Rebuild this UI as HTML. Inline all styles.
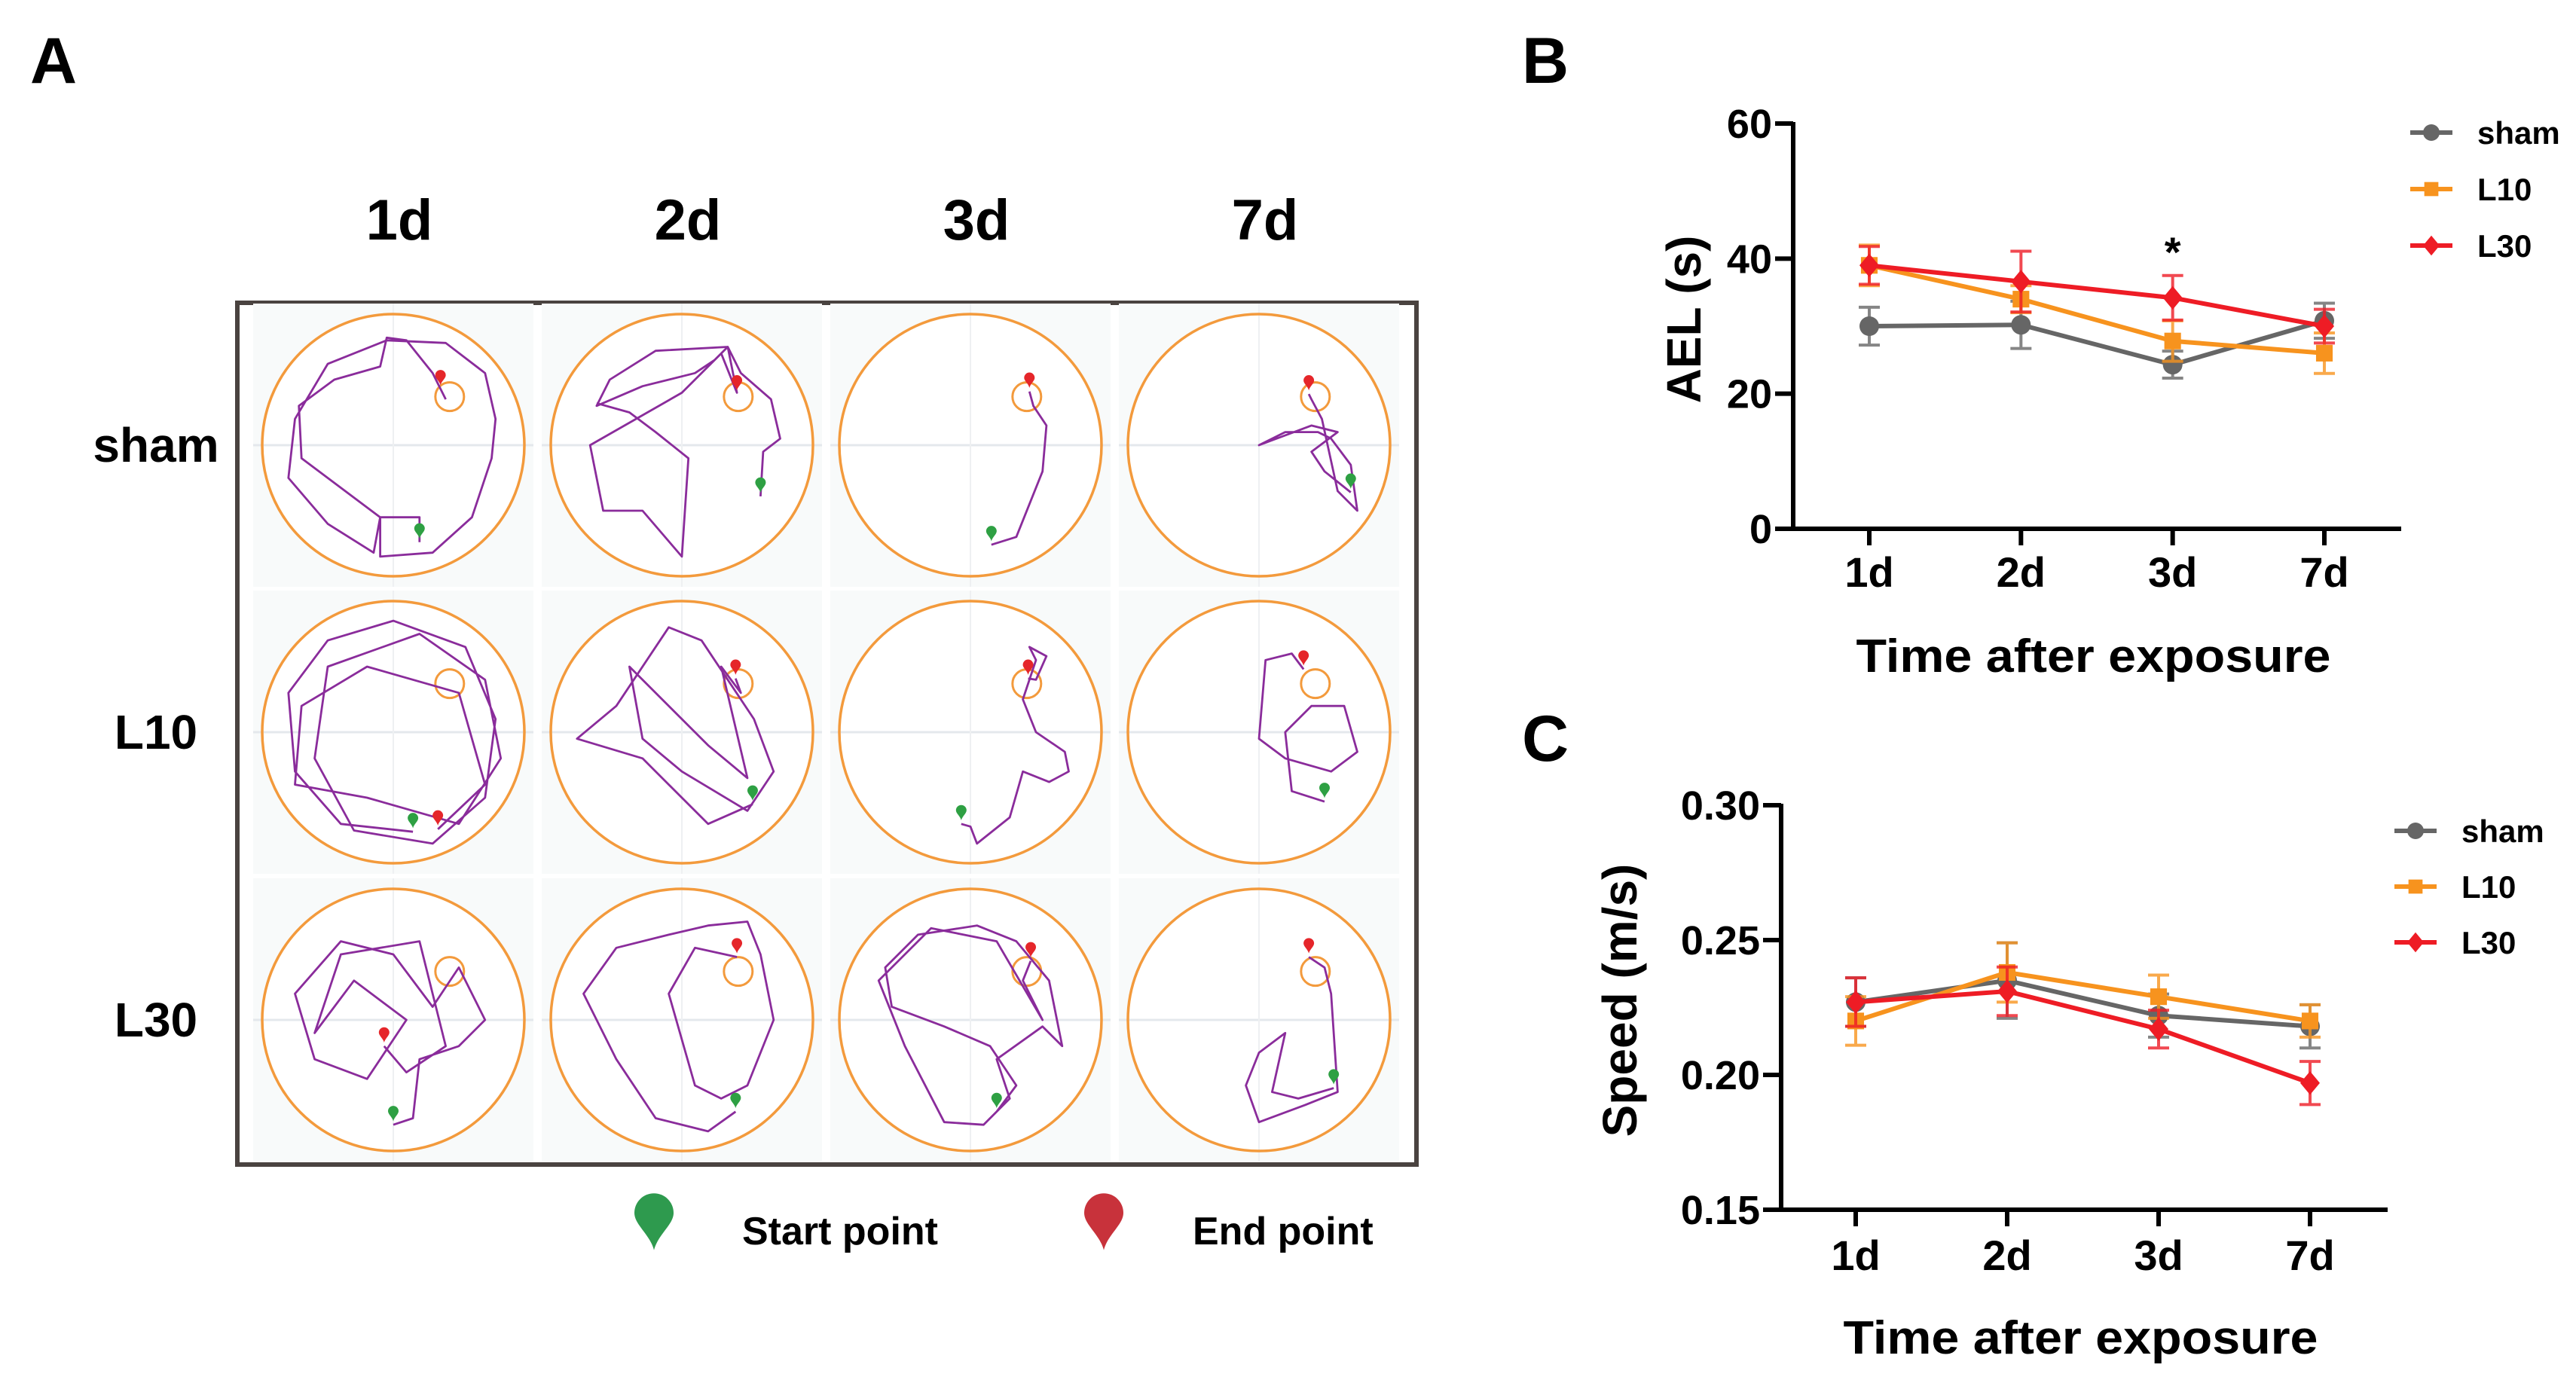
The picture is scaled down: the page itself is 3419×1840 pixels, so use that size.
<!DOCTYPE html>
<html><head><meta charset="utf-8"><style>
html,body{margin:0;padding:0;background:#fff;}
svg{display:block;font-family:"Liberation Sans",Arial,sans-serif;font-weight:bold;}
</style></head><body>
<svg id="fig" width="3419" height="1840" viewBox="0 0 3419 1840" xmlns="http://www.w3.org/2000/svg">
<rect x="0" y="0" width="3419" height="1840" fill="#fff"/>
<text x="40" y="110" font-size="86">A</text>
<text x="2020" y="110" font-size="86">B</text>
<text x="2020" y="1010" font-size="86">C</text>
<g id="panelA"></g>
<g id="chartB"></g>
<g id="chartC"></g>
</svg>
<script>
// ---------- chart data ----------
const categories = ["1d","2d","3d","7d"];
const seriesNames = ["sham","L10","L30"];
const aelSham = [30.0, 30.2, 24.3, 30.8];
const aelL10 = [39.0, 34.0, 27.8, 26.0];
const aelL30 = [39.0, 36.6, 34.2, 30.0];
const aelShamErr = [2.8, 3.5, 2.0, 2.6];
const aelL10Err = [3.0, 2.0, 3.0, 3.0];
const aelL30Err = [2.8, 4.5, 3.3, 2.5];
const aelTicks = [0, 20, 40, 60];
const speedSham = [0.227, 0.235, 0.222, 0.218];
const speedL10 = [0.220, 0.238, 0.229, 0.220];
const speedL30 = [0.227, 0.231, 0.217, 0.197];
const speedShamErr = [0.009, 0.014, 0.008, 0.008];
const speedL10Err = [0.009, 0.011, 0.008, 0.006];
const speedL30Err = [0.009, 0.009, 0.007, 0.008];
const speedTicks = [0.15, 0.20, 0.25, 0.30];
const speedTickLabels = ["0.15","0.20","0.25","0.30"];

const NS = "http://www.w3.org/2000/svg";
function mk(parent, tag, attrs, text){
  const e = document.createElementNS(NS, tag);
  for (const k in attrs) e.setAttribute(k, attrs[k]);
  if (text !== undefined) e.textContent = text;
  parent.appendChild(e);
  return e;
}
const colors = {sham:"#666666", L10:"#f7931e", L30:"#ee1c25"};

function marker(g, shape, x, y, s, col){
  let m;
  if (shape === "sham") m = mk(g, "circle", {cx:x, cy:y, r:s, fill:col});
  else if (shape === "L10") m = mk(g, "rect", {x:x-s*0.85, y:y-s*0.85, width:s*1.7, height:s*1.7, fill:col});
  else m = mk(g, "polygon", {points:`${x},${y-s*1.2} ${x+s},${y} ${x},${y+s*1.2} ${x-s},${y}`, fill:col});
  return m;
}

function drawChart(gid, cfg){
  const g = document.getElementById(gid);
  const {x0, x1, y0, y1, vmin, vmax, ticks, tickLabels, xs, series, errs, ytitle, ycx, ycy, titleY, tickLY, legX, legTextX, legY} = cfg;
  const ys = v => y1 - (v - vmin) / (vmax - vmin) * (y1 - y0);
  const xp = i => xs[0] + i * (xs[3] - xs[0]) / 3;
  let a = mk(g, "line", {x1:x0, y1:y0-2, x2:x0, y2:y1+3, stroke:"#000", "stroke-width":6});
  
  
  a = mk(g, "line", {x1:x0-24, y1:y1, x2:x1, y2:y1, stroke:"#000", "stroke-width":6});
  
  
  ticks.forEach((t, i) => {
    const y = ys(t);
    const tl = mk(g, "line", {x1:x0-24, y1:y, x2:x0, y2:y, stroke:"#000", "stroke-width":6});
    
    
    const tx = mk(g, "text", {x:x0-28, y:y+19, "font-size":54, "text-anchor":"end"}, tickLabels[i]);
    
    
  });
  categories.forEach((c, i) => {
    const x = xp(i);
    const tl = mk(g, "line", {x1:x, y1:y1, x2:x, y2:y1+22, stroke:"#000", "stroke-width":6});
    
    
    const tx = mk(g, "text", {x:x, y:tickLY, "font-size":56, "text-anchor":"middle"}, c);
    
    
  });
  const tt = mk(g, "text", {x:(x0+x1)/2-5, y:titleY, "font-size":62, "text-anchor":"middle", textLength:630, lengthAdjust:"spacingAndGlyphs"}, "Time after exposure");
  
  
  const yt = mk(g, "text", {x:0, y:0, "font-size":64, "text-anchor":"middle", transform:`translate(${ycx+22},${ycy}) rotate(-90)`}, ytitle);
  
  
  seriesNames.forEach((name, si) => {
    const col = colors[name];
    const vals = series[si], er = errs[si];
    const sg = mk(g, "g", {});
    
    
    vals.forEach((v, i) => {
      const x = xp(i);
      const eb = mk(sg, "path", {d:`M${x},${ys(v-er[i])}V${ys(v+er[i])}M${x-14},${ys(v-er[i])}h28M${x-14},${ys(v+er[i])}h28`, stroke:col, "stroke-width":4, fill:"none", opacity:0.8});
      
      
    });
    const pl = mk(sg, "polyline", {points: vals.map((v,i)=>`${xp(i)},${ys(v)}`).join(" "), stroke:col, "stroke-width":6, fill:"none"});
    
    
    vals.forEach((v, i) => {
      const m = marker(sg, name, xp(i), ys(v), 13, col);
      
      
    });
    const lg = mk(g, "g", {});
    
    
    const ly = legY[si];
    mk(lg, "line", {x1:legX, y1:ly, x2:legX+56, y2:ly, stroke:col, "stroke-width":6});
    marker(lg, name, legX+28, ly, 11, col);
    mk(lg, "text", {x:legTextX, y:ly+15, "font-size":42}, name);
  });
  return {ys, xp};
}

const B = drawChart("chartB", {
  x0:2380, x1:3187, y0:164, y1:702, vmin:0, vmax:60, ticks:aelTicks, tickLabels:aelTicks.map(String),
  xs:[2481,2682,2884,3085], series:[aelSham,aelL10,aelL30], errs:[aelShamErr,aelL10Err,aelL30Err],
  ytitle:"AEL (s)", ycx:2235, ycy:424, titleY:892, tickLY:779, legX:3199, legTextX:3288, legY:[176,251,326]
});
const ast = mk(document.getElementById("chartB"), "text", {x:B.xp(2), y:B.ys(aelL30[2]+aelL30Err[2])-12, "font-size":56, "text-anchor":"middle"}, "*");



drawChart("chartC", {
  x0:2364, x1:3169, y0:1069, y1:1606, vmin:0.15, vmax:0.30, ticks:speedTicks, tickLabels:speedTickLabels,
  xs:[2463,2665,2865,3066], series:[speedSham,speedL10,speedL30], errs:[speedShamErr,speedL10Err,speedL30Err],
  ytitle:"Speed (m/s)", ycx:2150, ycy:1328, titleY:1797, tickLY:1686, legX:3178, legTextX:3267, legY:[1103,1177,1251]
});

// ---------- panel A: trajectories ----------
const A = document.getElementById("panelA");
const cols = [522, 905, 1288, 1671];
const rows = [591, 972, 1354];
const R = 174;
const frame = mk(A, "rect", {x:315, y:402, width:1565, height:1144, fill:"#fff", stroke:"#4a4340", "stroke-width":6});


const colLabels = ["1d","2d","3d","7d"];
colLabels.forEach((c,i)=>{
  const t = mk(A, "text", {x:cols[i]+8, y:318, "font-size":76, "text-anchor":"middle"}, c);
  
  
});
const rowLabels = ["sham","L10","L30"];
rowLabels.forEach((r,i)=>{
  const t = mk(A, "text", {x:207, y:rows[i]+22, "font-size":64, "text-anchor":"middle"}, r);
  
  
});
const paths = [
 [[[0.2,0.74],[0.2,0.55],[-0.1,0.55],[-0.1,0.85],[0.3,0.82],[0.6,0.55],[0.75,0.1],[0.78,-0.2],[0.7,-0.55],[0.4,-0.78],[-0.05,-0.8],[-0.5,-0.62],[-0.75,-0.2],[-0.8,0.25],[-0.5,0.6],[-0.15,0.82],[-0.1,0.55],[-0.7,0.1],[-0.72,-0.3],[-0.45,-0.5],[-0.1,-0.6],[-0.05,-0.82],[0.1,-0.8],[0.3,-0.55],[0.4,-0.35]],[0.36,-0.43],[0.2,0.74]],
 [[[0.6,0.39],[0.62,0.05],[0.75,-0.05],[0.68,-0.35],[0.45,-0.55],[0.35,-0.75],[-0.2,-0.72],[-0.55,-0.5],[-0.65,-0.3],[-0.3,-0.45],[0.1,-0.55],[0.25,-0.65],[0.35,-0.75],[0.42,-0.4],[0.3,-0.7],[0.0,-0.4],[-0.7,0.0],[-0.6,0.5],[-0.3,0.5],[0.0,0.85],[0.05,0.1],[-0.2,-0.1],[-0.4,-0.25],[-0.65,-0.32]],[0.42,-0.39],[0.6,0.39]],
 [[[0.16,0.76],[0.35,0.7],[0.55,0.2],[0.58,-0.15],[0.48,-0.3],[0.45,-0.41]],[0.45,-0.41],[0.16,0.76]],
 [[[0.7,0.36],[0.5,0.2],[0.4,0.05],[0.6,-0.1],[0.4,-0.15],[0.0,0.0],[0.2,-0.1],[0.45,-0.1],[0.55,-0.05],[0.7,0.15],[0.75,0.5],[0.6,0.35],[0.48,-0.2],[0.4,-0.35],[0.38,-0.39]],[0.38,-0.39],[0.7,0.36]],
 [[[0.15,0.76],[-0.4,0.7],[-0.75,0.3],[-0.8,-0.3],[-0.5,-0.7],[0.0,-0.85],[0.55,-0.65],[0.78,-0.1],[0.7,0.5],[0.3,0.85],[-0.3,0.75],[-0.6,0.2],[-0.5,-0.5],[0.2,-0.75],[0.7,-0.4],[0.82,0.2],[0.5,0.7],[-0.2,0.5],[-0.75,0.4],[-0.7,-0.2],[-0.2,-0.5],[0.5,-0.3],[0.7,0.4],[0.34,0.74]],[0.34,0.74],[0.15,0.76]],
 [[[0.54,0.55],[0.2,0.7],[-0.3,0.2],[-0.8,0.05],[-0.5,-0.2],[-0.1,-0.8],[0.15,-0.7],[0.55,-0.1],[0.7,0.3],[0.5,0.6],[0.0,0.3],[-0.3,0.05],[-0.4,-0.5],[0.2,0.1],[0.5,0.35],[0.3,-0.5],[0.45,-0.3],[0.41,-0.41]],[0.41,-0.41],[0.54,0.55]],
 [[[-0.07,0.7],[0.0,0.72],[0.05,0.85],[0.3,0.65],[0.4,0.3],[0.6,0.38],[0.75,0.3],[0.72,0.15],[0.5,0.0],[0.4,-0.25],[0.5,-0.55],[0.45,-0.65],[0.58,-0.58],[0.5,-0.4],[0.44,-0.41]],[0.44,-0.41],[-0.07,0.7]],
 [[[0.5,0.53],[0.25,0.45],[0.2,0.0],[0.4,-0.2],[0.65,-0.2],[0.75,0.15],[0.55,0.3],[0.2,0.2],[0.0,0.05],[0.05,-0.55],[0.25,-0.6],[0.34,-0.48]],[0.34,-0.48],[0.5,0.53]],
 [[[0.0,0.8],[0.15,0.75],[0.2,0.3],[0.5,0.2],[0.7,0.0],[0.5,-0.4],[0.3,-0.1],[0.0,-0.5],[-0.4,-0.6],[-0.75,-0.2],[-0.6,0.3],[-0.2,0.45],[0.1,0.0],[-0.3,-0.3],[-0.6,0.1],[-0.4,-0.5],[0.2,-0.6],[0.4,0.2],[0.1,0.4],[-0.07,0.2]],[-0.07,0.2],[0.0,0.8]],
 [[[0.41,0.7],[0.2,0.85],[-0.2,0.75],[-0.5,0.3],[-0.75,-0.2],[-0.5,-0.55],[-0.1,-0.65],[0.2,-0.72],[0.5,-0.75],[0.6,-0.5],[0.7,0.0],[0.5,0.5],[0.3,0.6],[0.1,0.5],[-0.1,-0.2],[0.1,-0.55],[0.42,-0.48]],[0.42,-0.48],[0.41,0.7]],
 [[[0.2,0.7],[0.35,0.5],[0.15,0.2],[-0.2,0.05],[-0.6,-0.1],[-0.65,-0.4],[-0.4,-0.65],[0.05,-0.72],[0.35,-0.6],[0.6,-0.3],[0.7,0.2],[0.55,0.05],[0.2,0.3],[0.3,0.6],[0.1,0.8],[-0.2,0.78],[-0.5,0.2],[-0.7,-0.3],[-0.3,-0.7],[0.2,-0.6],[0.55,0.0],[0.4,-0.3],[0.46,-0.45]],[0.46,-0.45],[0.2,0.7]],
 [[[0.57,0.52],[0.3,0.6],[0.1,0.55],[0.2,0.1],[0.0,0.25],[-0.1,0.5],[0.0,0.78],[0.35,0.65],[0.6,0.55],[0.55,-0.2],[0.5,-0.4],[0.38,-0.48]],[0.38,-0.48],[0.57,0.52]]
];
function pin(g, x, y, col, s){
  return mk(g, "path", {d:`M${x},${y+s*1.6} C${x-s*0.2},${y+s*0.8} ${x-s},${y+s*0.3} ${x-s},${y-s*0.3} A${s},${s} 0 1 1 ${x+s},${y-s*0.3} C${x+s},${y+s*0.3} ${x+s*0.2},${y+s*0.8} ${x},${y+s*1.6}Z`, fill:col});
}
rows.forEach((cy, ri)=>{
  cols.forEach((cx, ci)=>{
    const cell = mk(A, "g", {});
    
    
    mk(cell, "rect", {x:cx-186, y:cy-188, width:372, height:376, fill:"#f8fafa"});
    mk(cell, "circle", {cx:cx, cy:cy, r:R, fill:"#fff"});
    mk(cell, "line", {x1:cx-186, y1:cy, x2:cx+186, y2:cy, stroke:"#e4e8ec", "stroke-width":3});
    mk(cell, "line", {x1:cx, y1:cy-188, x2:cx, y2:cy+188, stroke:"#eef0f2", "stroke-width":2});
    mk(cell, "circle", {cx:cx, cy:cy, r:R, fill:"none", stroke:"#f39a3c", "stroke-width":3.5});
    mk(cell, "circle", {cx:cx+0.43*R, cy:cy-0.37*R, r:19, fill:"none", stroke:"#f39a3c", "stroke-width":3});
    const p = paths[ri*4+ci];
    const d = p[0].map((pt,k)=>(k?"L":"M")+(cx+pt[0]*R).toFixed(1)+","+(cy+pt[1]*R).toFixed(1)).join("");
    mk(cell, "path", {d:d, fill:"none", stroke:"#8a2c9b", "stroke-width":2.8, "stroke-linejoin":"round"});
    pin(cell, cx+p[2][0]*R, cy+p[2][1]*R-16, "#2ea043", 7);
    pin(cell, cx+p[1][0]*R, cy+p[1][1]*R-16, "#e5262a", 7);
  });
});
const lg1 = mk(A, "g", {});


pin(lg1, 868, 1618, "#2e9a4e", 26);
mk(lg1, "text", {x:985, y:1652, "font-size":52}, "Start point");
const lg2 = mk(A, "g", {});


pin(lg2, 1465, 1618, "#c8323b", 26);
mk(lg2, "text", {x:1583, y:1652, "font-size":52}, "End point");
</script>
</body></html>
